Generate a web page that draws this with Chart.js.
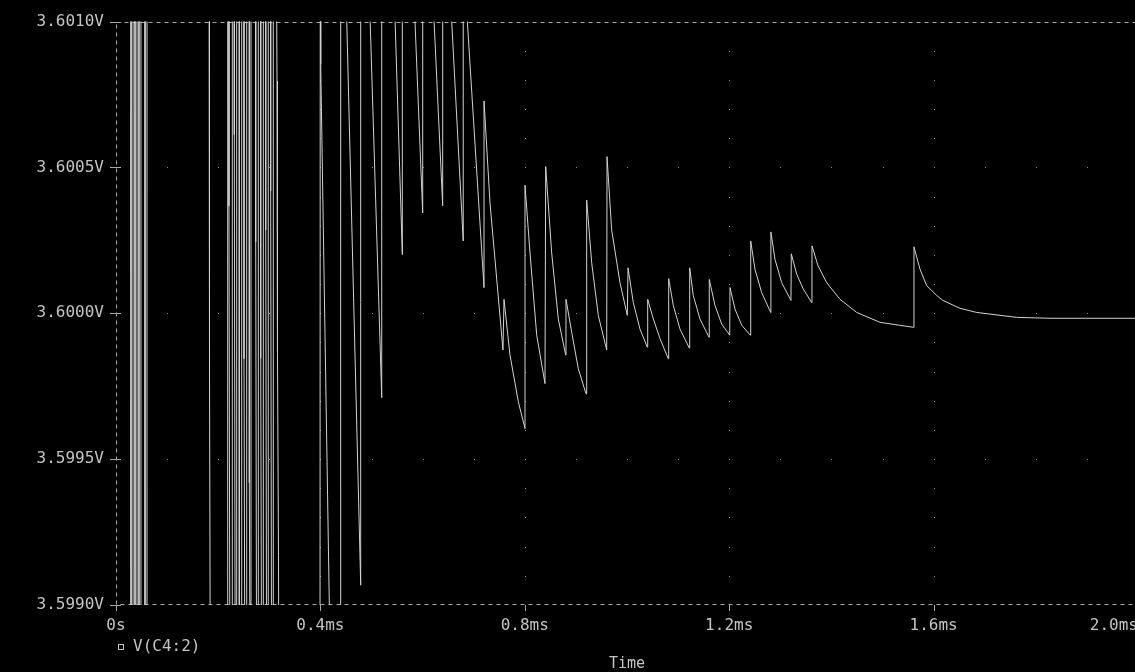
<!DOCTYPE html>
<html>
<head>
<meta charset="utf-8">
<title>V(C4:2)</title>
<script src="https://cdn.jsdelivr.net/npm/chart.js@4.4.1/dist/chart.umd.min.js"></script>
<style>
  html, body { margin: 0; padding: 0; background: #000; overflow: hidden; }
  canvas { display: block; background: #000; }
</style>
</head>
<body>
<canvas id="probe" width="1139" height="672"></canvas>
<script>
// PSpice probe window: V(C4:2) vs Time, black background, dotted grid

const OVER = 3.6015;   // off the top of the plot (clipped)
const UNDER = 3.5985;  // off the bottom of the plot (clipped)

// start-up: full swings, then steep decays running in from the top edge
const startupT = [
  0,
  0.0294, 0.0294, 0.0333, 0.0333, 0.0372, 0.0372, 0.0411, 0.0411,
  0.0450, 0.0450, 0.0489, 0.0489, 0.0568, 0.0568, 0.0607, 0.0607,
  0.1820, 0.1830, 0.1849,
  0.2186, 0.2186, 0.2211, 0.2211, 0.2231, 0.2276, 0.2276, 0.2315, 0.2315, 0.2335,
  0.2362, 0.2362, 0.2413, 0.2413, 0.2460, 0.2460, 0.2505, 0.2505, 0.2525,
  0.2558, 0.2558, 0.2609, 0.2609, 0.2629, 0.2642, 0.2642, 0.2734, 0.2734, 0.2754,
  0.2785, 0.2785, 0.2832, 0.2832, 0.2852, 0.2883, 0.2883, 0.2930, 0.2930, 0.2950,
  0.2980, 0.2980, 0.3027, 0.3027, 0.3047, 0.3078, 0.3078,
  0.3131, 0.3151, 0.3160, 0.3180, 0.3190,
  0.3992, 0.3998, 0.4006, 0.4174, 0.4207,
  0.4397, 0.4397,
  0.4495, 0.4789, 0.4789,
  0.4948, 0.5200, 0.5200,
  0.5436, 0.5603, 0.5603,
  0.5817, 0.6002, 0.6002,
  0.6185, 0.6393, 0.6393,
  0.6525, 0.6795, 0.6795,
  0.6822, 0.7202
];
const startupV = [
  OVER,
  OVER, UNDER, UNDER, OVER, OVER, UNDER, UNDER, OVER,
  OVER, UNDER, UNDER, OVER, OVER, UNDER, UNDER, OVER,
  OVER, 3.599803, UNDER,
  UNDER, OVER, OVER, 3.600367, UNDER, UNDER, OVER, OVER, 3.600612, UNDER,
  UNDER, OVER, OVER, UNDER, UNDER, OVER, OVER, 3.599844, UNDER,
  UNDER, OVER, OVER, 3.599419, UNDER, UNDER, OVER, OVER, 3.600245, UNDER,
  UNDER, OVER, OVER, 3.599845, UNDER, UNDER, OVER, OVER, 3.600286, UNDER,
  UNDER, OVER, OVER, 3.600419, UNDER, UNDER, OVER,
  OVER, 3.600796, 3.599867, 3.599170, UNDER,
  UNDER, OVER, 3.600854, 3.599007, UNDER,
  UNDER, OVER,
  3.60115, 3.599068, OVER,
  3.60115, 3.599711, OVER,
  3.60115, 3.600201, OVER,
  3.60115, 3.600344, OVER,
  3.60115, 3.600369, OVER,
  3.60115, 3.600248, OVER,
  3.60115, 3.600088
];

// sawtooth ripple, 0.72 ms .. 1.36 ms
const rippleT = [
  0.7202, 0.7319, 0.7573,
  0.7593, 0.7710, 0.7873, 0.8004,
  0.8004, 0.8102, 0.8233, 0.8395,
  0.8409, 0.8526, 0.8656, 0.8800,
  0.8806, 0.8918, 0.9047, 0.9198,
  0.9211, 0.9309, 0.9438, 0.9603,
  0.9609, 0.9700, 0.9863, 1.0006,
  1.0020, 1.0123, 1.0254, 1.0397,
  1.0405, 1.0515, 1.0646, 1.0808,
  1.0816, 1.0906, 1.1037, 1.1219,
  1.1227, 1.1297, 1.1429, 1.1605,
  1.1610, 1.1722, 1.1853, 1.2010,
  1.2016, 1.2114, 1.2245, 1.2413,
  1.2421, 1.2505, 1.2636, 1.2812,
  1.2816, 1.2896, 1.3027, 1.3209,
  1.3215, 1.3321, 1.3450, 1.3614
];
const rippleV = [
  3.600728, 3.600378, 3.599874,
  3.600048, 3.599857, 3.599697, 3.599605,
  3.600439, 3.600207, 3.599925, 3.599759,
  3.600503, 3.600207, 3.599980, 3.599857,
  3.600048, 3.599935, 3.599810, 3.599724,
  3.600388, 3.600173, 3.599993, 3.599874,
  3.600537, 3.600286, 3.600105, 3.599993,
  3.600156, 3.600037, 3.599946, 3.599884,
  3.600048, 3.599981, 3.599913, 3.599844,
  3.600119, 3.600027, 3.599946, 3.599881,
  3.600156, 3.600061, 3.599980, 3.599918,
  3.600116, 3.600027, 3.599963, 3.599925,
  3.600088, 3.600014, 3.599959, 3.599925,
  3.600248, 3.600150, 3.600071, 3.600003,
  3.600279, 3.600185, 3.600105, 3.600044,
  3.600204, 3.600134, 3.600083, 3.600037
];

// last two kicks and the settling tail
const settleT = [
  1.3620, 1.3738, 1.3908, 1.4168, 1.4495, 1.4951, 1.5603,
  1.5616, 1.5734, 1.5865, 1.6061, 1.6184, 1.6517, 1.6843, 1.7299, 1.7626, 1.8278, 2.0
];
const settleV = [
  3.600231, 3.600163, 3.600105, 3.600048, 3.600003, 3.599969, 3.599952,
  3.600228, 3.600151, 3.600095, 3.600061, 3.600044, 3.600017, 3.600003, 3.599993, 3.599986, 3.599983, 3.599983
];

const xTicks = [0, 0.4, 0.8, 1.2, 1.6, 2.0];
const xLabels = ['0s', '0.4ms', '0.8ms', '1.2ms', '1.6ms', '2.0ms'];
const yTicks = [3.5990, 3.5995, 3.6000, 3.6005, 3.6010];
const yLabels = ['3.5990V', '3.5995V', '3.6000V', '3.6005V', '3.6010V'];
const traceName = 'V(C4:2)';

const timeMs = [...startupT, ...rippleT, ...settleT];
const volts = [...startupV, ...rippleV, ...settleV];
const points = timeMs.map((t, i) => ({ x: t, y: volts[i] }));

const TEXT = '#c4c4c4';
const FRAME = '#a8a8a8';
const DOT = '#8c8c8c';
const MONO = '"DejaVu Sans Mono", "Liberation Mono", monospace';

// dotted grid, dashed frame, "+" ticks and the trace legend
const probeGrid = {
  id: 'probeGrid',
  beforeDatasetsDraw(chart) {
    const { ctx, chartArea: a, scales: { x, y } } = chart;
    ctx.save();
    ctx.fillStyle = DOT;
    // dots every 0.1ms along inner voltage lines
    yTicks.slice(1, -1).forEach(v => {
      const py = Math.round(y.getPixelForValue(v));
      for (let k = 1; k < 20; k++) {
        ctx.fillRect(Math.round(x.getPixelForValue(k / 10)), py, 1, 1);
      }
    });
    // dots every 0.1mV along inner time lines
    xTicks.slice(1, -1).forEach(t => {
      const px = Math.round(x.getPixelForValue(t));
      for (let k = 1; k < 20; k++) {
        ctx.fillRect(px, Math.round(y.getPixelForValue(3.599 + k * 0.0001)), 1, 1);
      }
    });
    ctx.strokeStyle = FRAME;
    ctx.lineWidth = 1;
    ctx.setLineDash([4, 4]);
    ctx.strokeRect(Math.round(a.left) + 0.5, Math.round(a.top) + 0.5,
      Math.round(a.width) - 1, Math.round(a.height) - 1);
    ctx.restore();
  },
  afterDraw(chart) {
    const { ctx, chartArea: a, scales: { x, y } } = chart;
    ctx.save();
    ctx.strokeStyle = FRAME;
    ctx.lineWidth = 1;
    ctx.beginPath();
    yTicks.forEach(v => {
      const py = Math.round(y.getPixelForValue(v)) + 0.5;
      ctx.moveTo(a.left - 6, py);
      ctx.lineTo(a.left + 5, py);
    });
    xTicks.forEach(t => {
      const px = Math.round(x.getPixelForValue(t)) + 0.5;
      ctx.moveTo(px, a.bottom);
      ctx.lineTo(px, a.bottom + 6);
    });
    ctx.stroke();

    // legend: small hollow square + trace name
    ctx.strokeStyle = TEXT;
    ctx.strokeRect(Math.round(a.left) + 2.5, 644.5, 5, 5);
    ctx.fillStyle = TEXT;
    ctx.font = '16px ' + MONO;
    ctx.textBaseline = 'middle';
    ctx.textAlign = 'left';
    ctx.fillText(traceName, a.left + 17, 647);
    ctx.restore();
  }
};

new Chart(document.getElementById('probe').getContext('2d'), {
  type: 'line',
  data: {
    datasets: [{
      label: traceName,
      data: points,
      borderColor: '#d2d2d2',
      borderWidth: 1,
      pointRadius: 0,
      tension: 0,
      fill: false
    }]
  },
  options: {
    responsive: false,
    animation: false,
    events: [],
    layout: { padding: { top: 17, right: 1, bottom: 0, left: 0 } },
    plugins: {
      legend: { display: false },
      tooltip: { enabled: false }
    },
    scales: {
      x: {
        type: 'linear',
        min: 0,
        max: 2,
        afterBuildTicks: s => { s.ticks = xTicks.map(value => ({ value })); },
        afterFit: s => { s.height = 67; s.paddingLeft = 0; s.paddingRight = 0; },
        grid: { display: false, drawTicks: false },
        border: { display: false },
        ticks: {
          color: TEXT,
          font: { family: MONO, size: 16 },
          padding: 11,
          autoSkip: false,
          maxRotation: 0,
          minRotation: 0,
          // last label sits flush with the right edge, like the probe window
          callback: (v, i) => i === xLabels.length - 1 ? xLabels[i] + '     ' : xLabels[i]
        },
        title: {
          display: true,
          text: 'Time',
          color: TEXT,
          font: { family: MONO, size: 15, lineHeight: 1 },
          padding: { top: 0, bottom: 0 }
        }
      },
      y: {
        type: 'linear',
        min: 3.599,
        max: 3.601,
        afterBuildTicks: s => { s.ticks = yTicks.map(value => ({ value })); },
        afterFit: s => { s.width = 116; },
        grid: { display: false, drawTicks: false },
        border: { display: false },
        ticks: {
          color: TEXT,
          font: { family: MONO, size: 16 },
          padding: 12,
          callback: (v, i) => yLabels[i]
        }
      }
    }
  },
  plugins: [probeGrid]
});
</script>
</body>
</html>
